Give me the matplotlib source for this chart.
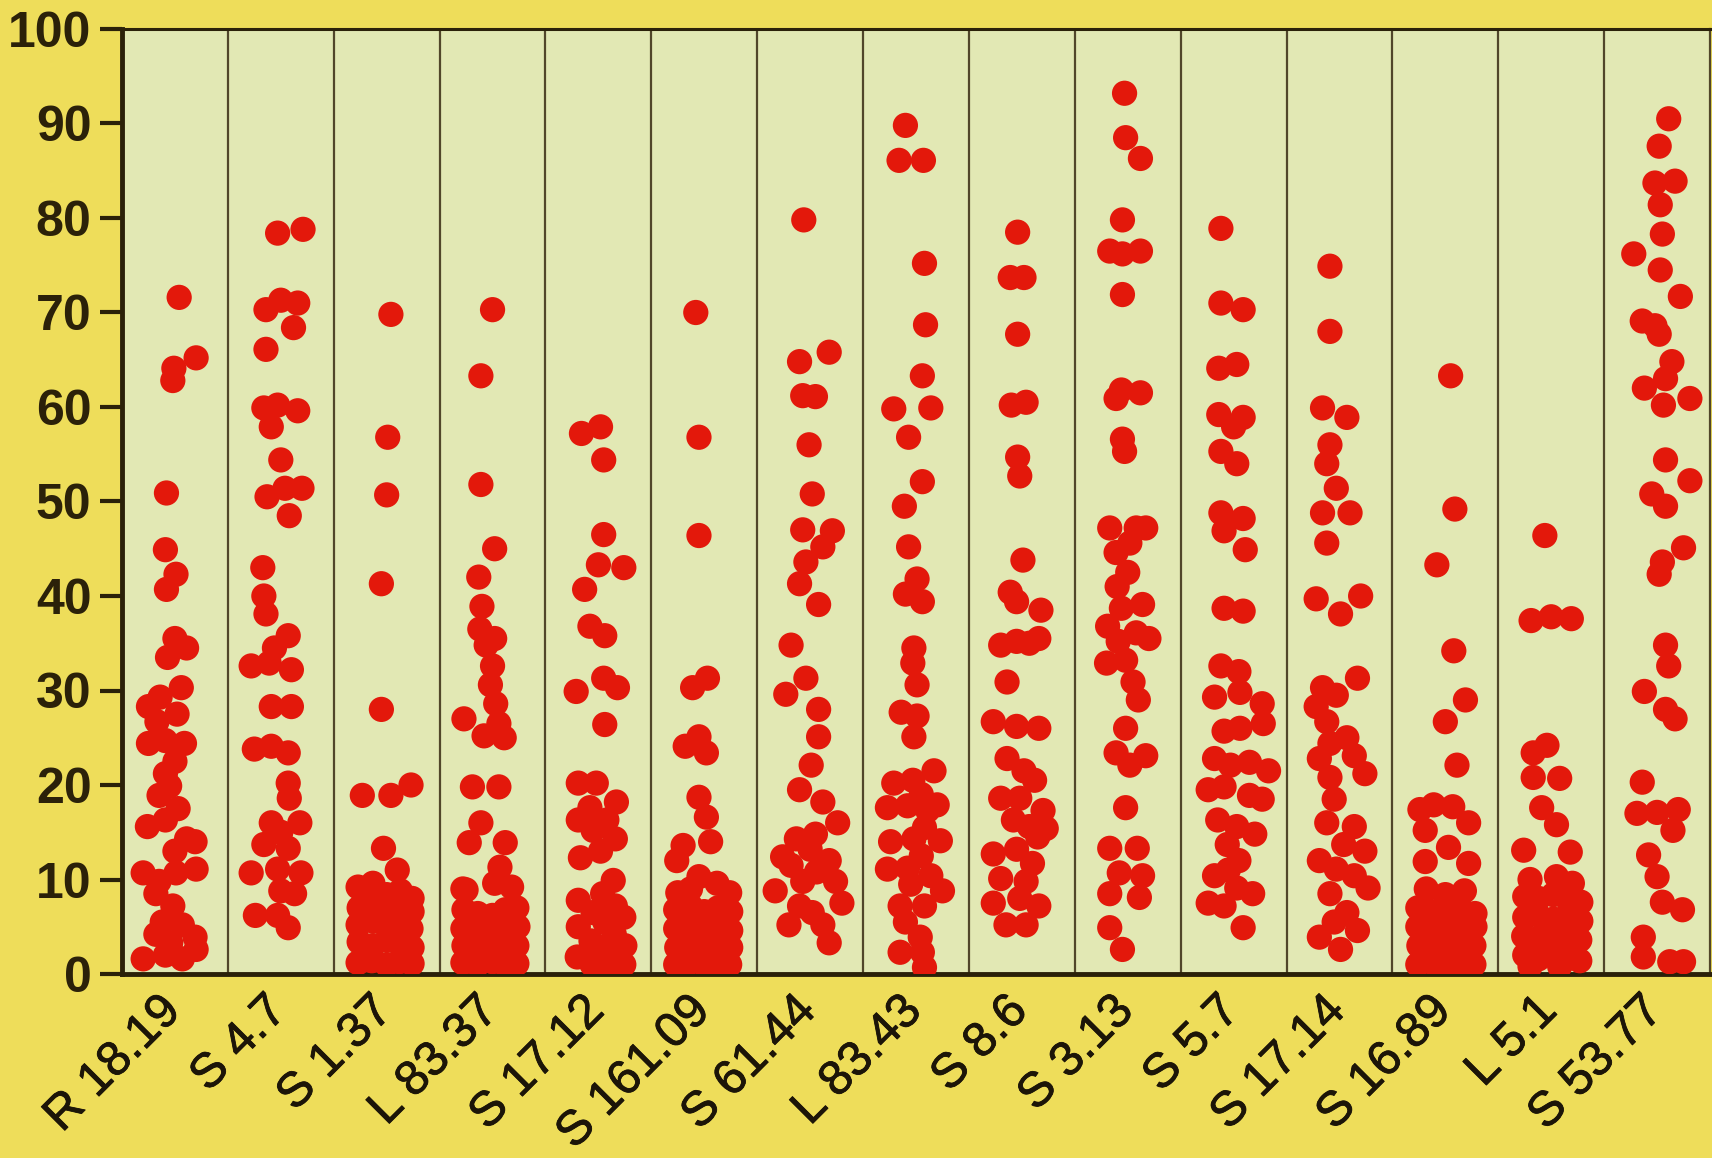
import numpy as np
import matplotlib
matplotlib.use("Agg")
import matplotlib.pyplot as plt
import matplotlib.transforms as mtransforms
import matplotlib.patheffects as pe

plt.rcParams['font.family'] = ['Liberation Sans', 'DejaVu Sans']

labels = ["R 18.19", "S 4.7", "S 1.37", "L 83.37", "S 17.12", "S 161.09",
          "S 61.44", "L 83.43", "S 8.6", "S 3.13", "S 5.7", "S 17.14",
          "S 16.89", "L 5.1", "S 53.77"]

# each strain: percent values and the sideways jitter used within its lane
r1819_val = [71.6, 65.2, 64.1, 62.8, 50.9, 44.9, 42.3, 40.7, 35.5, 34.5, 33.5, 28.3, 29.3, 30.3,
             26.7, 24.4, 24.7, 24.4, 21.2, 18.9, 19.9, 15.6, 16.3, 14.0, 14.3, 10.7, 9.8, 10.7,
             11.1, 8.5, 7.2, 5.5, 5.2, 3.9, 1.6, 2.0, 1.6, 2.6, 3.3, 4.2, 13.0, 17.5, 22.5, 27.5]
r1819_off = [0.04, 0.2, -0.01, -0.02, -0.08, -0.09, 0.01, -0.08, 0.0, 0.11, -0.07, -0.25, -0.14, 0.06,
             -0.17, -0.25, -0.09, 0.09, -0.09, -0.15, -0.05, -0.26, -0.09, 0.19, 0.11, -0.3, -0.15, 0.01,
             0.2, -0.18, -0.02, -0.12, 0.07, 0.19, -0.3, -0.09, 0.07, 0.2, -0.04, -0.18, 0.0, 0.03, 0.0, 0.02]

s47_val = [78.4, 78.8, 70.3, 71.3, 71.0, 68.4, 66.1, 59.9, 60.2, 59.6, 57.9, 54.4, 50.5, 51.4, 51.4,
           48.5, 43.0, 40.0, 38.1, 35.8, 34.5, 32.6, 32.9, 32.2, 28.3, 28.3, 23.8, 24.1, 23.4, 20.2,
           18.6, 16.0, 16.0, 15.0, 13.7, 13.3, 10.7, 11.1, 10.7, 8.8, 8.5, 6.2, 6.2, 4.9]
s47_off = [-0.03, 0.21, -0.14, 0.0, 0.16, 0.12, -0.14, -0.16, -0.03, 0.16, -0.09, 0.0, -0.13, 0.04, 0.2,
           0.08, -0.17, -0.16, -0.14, 0.07, -0.06, -0.28, -0.11, 0.1, -0.09, 0.1, -0.25, -0.09, 0.07, 0.07,
           0.08, -0.09, 0.18, 0.0, -0.16, 0.07, -0.28, -0.03, 0.19, 0.0, 0.13, -0.24, -0.03, 0.07]

s137_val = [69.8, 56.8, 50.7, 41.3, 28.0, 18.9, 18.9, 20.0, 13.3, 11.0,
            9.2, 9.6, 8.4, 8.8, 8.0,
            7.0, 7.4, 6.8, 7.2, 6.6,
            5.2, 5.6, 5.0, 5.4, 4.8,
            3.4, 3.0, 3.6, 3.2, 2.8,
            1.2, 1.4, 1.0, 1.3, 1.1]
s137_off = [0.04, 0.01, 0.0, -0.05, -0.05, -0.23, 0.04, 0.23, -0.03, 0.1,
            -0.27, -0.13, 0.0, 0.13, 0.24,
            -0.26, -0.14, 0.01, 0.12, 0.24,
            -0.27, -0.13, 0.0, 0.13, 0.23,
            -0.26, -0.13, 0.01, 0.12, 0.24,
            -0.27, -0.14, 0.0, 0.12, 0.24]

l8337_val = [70.3, 63.3, 51.8, 45.0, 42.0, 38.9, 36.5, 35.5, 34.8, 32.6, 30.6, 28.6, 27.0, 26.5,
             25.0, 25.2, 19.8, 19.8, 16.0, 13.9, 13.9, 11.3, 8.9,
             9.0, 9.6, 9.2,
             6.8, 6.4, 6.2, 6.8, 7.0,
             4.8, 5.0, 4.4, 4.8, 5.0,
             3.0, 2.8, 3.2, 2.6, 3.0,
             1.2, 1.0, 1.3, 1.0, 1.1]
l8337_off = [0.0, -0.11, -0.11, 0.02, -0.13, -0.1, -0.12, 0.02, -0.06, 0.0, -0.02, 0.03, -0.27, 0.06,
             0.11, -0.08, -0.19, 0.06, -0.11, -0.22, 0.12, 0.07, -0.25,
             -0.28, 0.02, 0.18,
             -0.27, -0.14, 0.0, 0.12, 0.23,
             -0.28, -0.13, 0.01, 0.13, 0.24,
             -0.27, -0.12, 0.02, 0.14, 0.23,
             -0.28, -0.14, 0.0, 0.12, 0.23]

s1712_val = [57.2, 57.9, 54.4, 46.5, 43.0, 43.3, 40.7, 36.8, 35.8, 29.9, 31.3, 30.3, 26.4,
             20.2, 20.2, 18.2, 17.6, 16.3, 16.3, 14.3, 15.2, 12.3, 13.0,
             7.8, 5.0, 1.8, 3.5, 6.5, 1.0, 8.5, 5.5, 2.5, 9.9, 7.2, 4.2, 1.2, 6.0, 3.0, 1.0, 0.8]
s1712_off = [-0.16, 0.02, 0.05, 0.05, 0.24, 0.0, -0.13, -0.08, 0.06, -0.21, 0.05, 0.18, 0.06,
             -0.19, -0.02, 0.17, -0.08, 0.08, -0.19, 0.16, -0.05, -0.17, 0.02,
             -0.19, -0.19, -0.2, -0.07, -0.05, -0.06, 0.04, 0.06, 0.05, 0.14, 0.16, 0.15, 0.16, 0.24, 0.25, 0.24, 0.1]

s16109_val = [70.0, 56.8, 46.4, 30.3, 31.3, 24.1, 25.1, 23.4, 18.7, 16.6, 14.0, 13.6, 12.0,
              10.3, 9.6, 8.6, 8.6, 9.0,
              6.8, 7.2, 6.6, 7.0, 6.6,
              4.8, 5.0, 4.6, 5.0, 4.6,
              2.8, 3.0, 2.6, 3.0, 2.8,
              1.0, 1.2, 1.0, 1.2, 1.0]
s16109_off = [-0.08, -0.05, -0.05, -0.11, 0.03, -0.18, -0.05, 0.02, -0.05, 0.02, 0.06, -0.2, -0.26,
              -0.05, 0.12, 0.24, -0.25, -0.13,
              -0.27, -0.13, 0.0, 0.13, 0.25,
              -0.27, -0.14, 0.0, 0.12, 0.25,
              -0.26, -0.13, 0.01, 0.14, 0.25,
              -0.27, -0.14, 0.0, 0.12, 0.24]

s6144_val = [79.8, 64.8, 65.8, 61.2, 61.1, 56.0, 50.8, 47.0, 46.9, 45.2, 43.6, 41.3, 39.1, 34.8,
             31.3, 29.6, 28.0, 25.1, 22.1, 19.5, 18.2, 16.0, 14.3, 14.8, 12.4, 12.0, 8.8, 9.8,
             9.8, 5.2, 5.2, 7.2, 3.3, 10.8, 7.5, 11.5, 6.5, 13.2]
s6144_off = [-0.06, -0.1, 0.18, -0.07, 0.05, -0.01, 0.02, -0.07, 0.21, 0.12, -0.04, -0.1, 0.08, -0.18,
             -0.04, -0.23, 0.08, 0.08, 0.01, -0.1, 0.12, 0.26, -0.13, 0.05, -0.26, 0.18, -0.33, -0.07,
             0.24, -0.2, 0.12, -0.1, 0.18, 0.06, 0.3, -0.18, 0.02, 0.0]

l8343_val = [89.8, 86.1, 86.1, 75.2, 68.7, 63.3, 59.8, 59.9, 56.8, 52.1, 49.5, 45.2, 41.8, 40.2,
             39.4, 34.5, 32.9, 30.6, 27.7, 27.3, 25.1, 21.5, 20.2, 20.5, 17.6, 17.8, 17.3, 17.9,
             14.0, 14.3, 14.1, 11.1, 11.2, 10.4, 7.2, 7.2, 3.9, 2.3, 2.3, 0.7, 12.5, 8.8, 15.5,
             19.0, 9.5, 5.5]
l8343_off = [-0.1, -0.16, 0.07, 0.08, 0.09, 0.06, -0.21, 0.14, -0.07, 0.06, -0.11, -0.07, 0.01, -0.1,
             0.06, -0.02, -0.03, 0.01, -0.14, 0.01, -0.02, 0.17, -0.21, -0.03, -0.27, -0.08, 0.11, 0.2,
             -0.24, -0.02, 0.23, -0.27, -0.08, 0.14, -0.15, 0.08, 0.04, -0.15, 0.06, 0.08, 0.05, 0.25, 0.08,
             0.05, -0.05, -0.1]

s86_val = [78.5, 73.7, 73.7, 67.7, 60.2, 60.5, 54.7, 52.7, 43.8, 40.4, 39.4, 38.5, 34.8, 35.2,
           35.5, 35.0, 30.9, 26.7, 26.2, 26.0, 22.8, 20.5, 18.6, 18.6, 17.3, 16.3, 15.6, 15.4,
           12.7, 13.2, 11.7, 10.1, 9.8, 7.5, 8.0, 7.2, 5.2, 5.2, 14.5, 21.5]
s86_off = [-0.04, -0.11, 0.02, -0.04, -0.1, 0.04, -0.04, -0.02, 0.01, -0.11, -0.05, 0.18, -0.2, -0.05,
           0.16, 0.07, -0.14, -0.27, -0.05, 0.16, -0.14, 0.12, -0.2, -0.02, 0.2, -0.08, 0.07, 0.23,
           -0.27, -0.05, 0.1, -0.2, 0.04, -0.27, -0.02, 0.16, -0.15, 0.04, 0.15, 0.02]

s313_val = [93.2, 88.5, 86.3, 79.8, 76.5, 76.2, 76.5, 71.9, 61.8, 61.5, 60.9, 56.6, 55.3, 47.2,
            47.2, 47.2, 44.6, 45.6, 39.1, 38.7, 36.8, 36.1, 35.5, 35.2, 33.2, 32.9, 30.9, 26.0,
            23.4, 23.1, 22.1, 17.6, 13.3, 13.3, 10.7, 10.4, 8.5, 8.1, 4.9, 2.6, 42.5, 41.0, 29.0]
s313_off = [-0.03, -0.02, 0.12, -0.05, -0.17, -0.05, 0.12, -0.05, -0.06, 0.12, -0.11, -0.05, -0.03, -0.17,
            0.08, 0.17, -0.11, 0.02, 0.14, -0.06, -0.19, 0.08, 0.2, -0.09, -0.02, -0.2, 0.05, -0.02,
            -0.11, 0.17, 0.02, -0.02, -0.17, 0.09, -0.08, 0.14, -0.17, 0.11, -0.17, -0.05, 0.0, -0.1, 0.1]

s57_val = [78.9, 71.0, 70.3, 64.1, 64.5, 59.2, 58.9, 57.9, 55.3, 54.0, 48.8, 48.2, 46.9, 44.9,
           38.7, 38.4, 32.6, 32.0, 29.3, 29.8, 28.6, 25.7, 26.0, 22.8, 22.1, 22.4, 21.5, 19.5,
           19.8, 18.9, 18.5, 16.3, 15.6, 13.7, 10.4, 9.1, 8.5, 7.5, 7.2, 4.9, 12.0, 14.8, 11.0, 26.5]
s57_off = [-0.12, -0.12, 0.09, -0.14, 0.03, -0.14, 0.09, 0.0, -0.12, 0.03, -0.12, 0.09, -0.09, 0.11,
           -0.09, 0.09, -0.12, 0.05, -0.18, 0.06, 0.27, -0.09, 0.06, -0.18, -0.03, 0.15, 0.33, -0.24,
           -0.09, 0.15, 0.27, -0.15, 0.03, -0.06, -0.18, 0.03, 0.18, -0.24, -0.09, 0.09, 0.05, 0.2, -0.05, 0.28]

s1714_val = [74.9, 68.0, 59.9, 58.9, 56.0, 54.0, 51.4, 48.8, 48.8, 45.6, 39.7, 40.0, 38.1, 31.3,
             30.3, 29.5, 28.3, 26.7, 24.4, 25.0, 23.1, 22.8, 20.8, 21.2, 16.0, 15.6, 13.7, 13.0,
             12.0, 11.1, 10.4, 8.5, 9.1, 6.5, 3.9, 4.6, 2.6, 18.5, 5.5]
s1714_off = [-0.09, -0.09, -0.16, 0.07, -0.09, -0.12, -0.03, -0.16, 0.1, -0.12, -0.22, 0.2, 0.01, 0.17,
             -0.16, -0.03, -0.22, -0.12, -0.09, 0.07, 0.14, -0.19, -0.09, 0.24, -0.12, 0.14, 0.04, 0.24,
             -0.19, -0.03, 0.14, -0.09, 0.27, 0.07, -0.19, 0.17, 0.01, -0.05, -0.05]

s1689_val = [63.3, 49.2, 43.3, 34.2, 29.0, 26.7, 22.1, 17.4, 17.9, 17.7, 16.0, 15.2, 13.4, 11.9, 11.7,
             9.0, 8.8, 8.4,
             7.0, 6.6, 7.2, 6.8, 6.4,
             5.0, 4.6, 5.0, 4.6, 5.0,
             3.0, 2.8, 3.2, 2.6, 3.0,
             1.0, 1.2, 1.0, 1.2, 1.0]
s1689_off = [0.05, 0.09, -0.08, 0.08, 0.19, 0.0, 0.11, -0.24, -0.11, 0.07, 0.22, -0.19, 0.03, -0.19, 0.22,
             -0.18, 0.18, 0.0,
             -0.26, -0.12, 0.02, 0.15, 0.28,
             -0.26, -0.13, 0.01, 0.14, 0.28,
             -0.25, -0.12, 0.02, 0.15, 0.27,
             -0.26, -0.12, 0.01, 0.14, 0.27]

l51_val = [46.4, 37.4, 37.8, 37.6, 24.2, 23.4, 20.8, 20.7, 17.6, 15.8, 13.1, 12.9,
           10.0, 10.3, 9.6,
           8.2, 8.0, 8.4, 8.0, 7.6,
           6.0, 6.2, 5.8, 6.2, 5.6,
           4.0, 3.8, 4.2, 3.8, 3.6,
           2.0, 1.6, 2.0, 1.6, 1.4,
           0.8, 0.8]
l51_off = [-0.06, -0.19, 0.0, 0.19, -0.04, -0.17, -0.17, 0.08, -0.09, 0.05, -0.26, 0.18,
           -0.2, 0.05, 0.2,
           -0.25, -0.12, 0.02, 0.15, 0.28,
           -0.25, -0.12, 0.02, 0.15, 0.28,
           -0.26, -0.12, 0.01, 0.14, 0.27,
           -0.25, -0.12, 0.02, 0.15, 0.27,
           -0.2, 0.08]

s5377_val = [90.5, 87.6, 83.7, 83.9, 81.4, 78.3, 76.2, 74.5, 71.7, 69.1, 67.7, 68.6, 64.8, 62.0,
             63.0, 60.9, 60.2, 54.4, 50.8, 52.2, 49.5, 45.1, 43.6, 42.3, 34.8, 32.6, 29.9, 28.0,
             27.0, 20.3, 17.0, 17.1, 17.4, 15.2, 12.6, 10.3, 7.6, 6.8, 3.9, 1.8, 1.3, 1.3]
s5377_off = [0.11, 0.02, -0.02, 0.17, 0.03, 0.05, -0.22, 0.03, 0.22, -0.14, 0.02, -0.02, 0.14, -0.12,
             0.08, 0.31, 0.06, 0.08, -0.05, 0.31, 0.08, 0.25, 0.05, 0.02, 0.08, 0.11, -0.12, 0.08,
             0.17, -0.14, -0.19, 0.0, 0.2, 0.15, -0.08, 0.0, 0.05, 0.24, -0.13, -0.13, 0.12, 0.25]

values = [r1819_val, s47_val, s137_val, l8337_val, s1712_val, s16109_val, s6144_val,
          l8343_val, s86_val, s313_val, s57_val, s1714_val, s1689_val, l51_val, s5377_val]
offsets = [r1819_off, s47_off, s137_off, l8337_off, s1712_off, s16109_off, s6144_off,
           l8343_off, s86_off, s313_off, s57_off, s1714_off, s1689_off, l51_off, s5377_off]

yellow = '#eedd5a'
panel = '#e2e8b4'
dark = '#2b2109'

fig = plt.figure(figsize=(17.12, 11.58), dpi=100, facecolor=yellow)
ax = fig.add_axes([122 / 1712, 1 - 974 / 1158, (1710 - 122) / 1712, (974 - 29) / 1158])
ax.set_facecolor(panel)

for i in range(len(labels) - 1):
    ax.axvline(i + 0.5, color='#51462a', lw=1.6, zorder=1)

for i, (v, o) in enumerate(zip(values, offsets)):
    x = i + np.array(o)
    ax.scatter(x, v, s=330, color='#e3180b', edgecolors='none', zorder=3)

ax.set_xlim(-0.5, len(labels) - 0.5)
ax.set_ylim(0, 100)

ax.set_yticks(range(0, 101, 10))
ax.tick_params(axis='y', length=16, width=3, direction='out', pad=6,
               labelsize=36, colors=dark)
for t in ax.get_yticklabels():
    t.set_fontweight('bold')

ax.set_xticks(range(len(labels)))
ax.set_xticklabels(labels, rotation=45, ha='right', va='top',
                   rotation_mode='anchor', fontsize=35, color='#1c1508')
ax.tick_params(axis='x', length=0, pad=2)
shift = mtransforms.ScaledTranslation(-17 / 100, -11 / 100, fig.dpi_scale_trans)
for t in ax.get_xticklabels():
    t.set_transform(t.get_transform() + shift)
    t.set_path_effects([pe.withStroke(linewidth=0.6, foreground='#1c1508')])

for side in ['left', 'bottom']:
    ax.spines[side].set_linewidth(3.5)
    ax.spines[side].set_color(dark)
ax.spines['top'].set_linewidth(2.2)
ax.spines['top'].set_color(dark)
ax.spines['right'].set_linewidth(1.6)
ax.spines['right'].set_color('#51462a')

fig.savefig('out.png', dpi=100, facecolor=yellow)
